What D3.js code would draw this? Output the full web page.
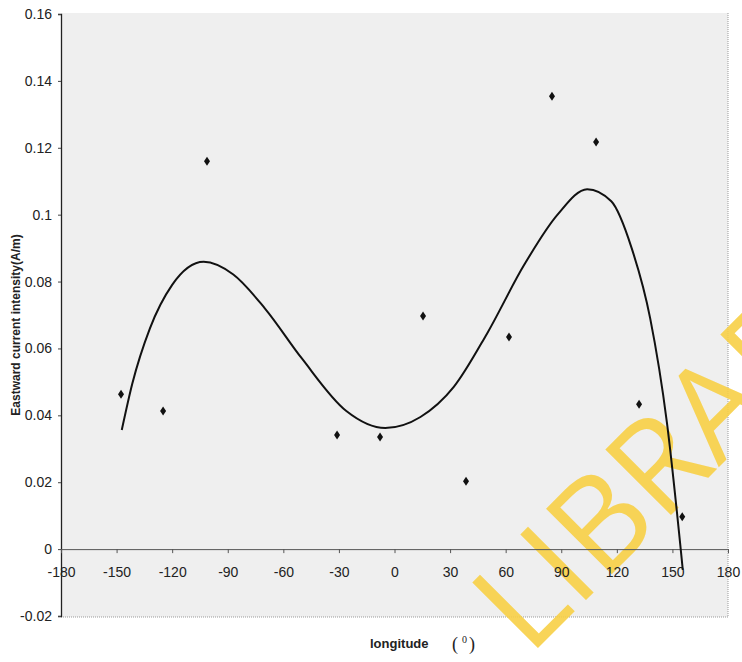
<!DOCTYPE html>
<html>
<head>
<meta charset="utf-8">
<script src="https://cdn.jsdelivr.net/npm/d3@7"></script>
<style>
  body { margin: 0; background: #fff; }
  .tick text { font-family: "Liberation Sans Narrow", "Liberation Sans", Arial, sans-serif; font-size: 14px; fill: #222; }
</style>
</head>
<body>
<script>
// measured points (longitude in degrees, eastward current intensity in A/m)
var lonPts = [-147.6, -124.9, -101.2, -31.0, -7.8, 15.4, 38.6, 61.8, 85.0, 108.8, 132.0, 155.3];
var valPts = [0.0463, 0.0413, 0.116, 0.0341, 0.0335, 0.0697, 0.0203, 0.0634, 0.1354, 0.1217, 0.0433, 0.0097];

// trend line
var trendLon = [-147.2, -141.5, -132.0, -120.0, -103.0, -87.0, -70.0, -50.0, -26.0, -5.0, 14.0, 32.0, 50.0, 70.0, 88.0, 104.0, 117.0, 128.0, 138.0, 147.0, 155.6];
var trendVal = [0.0356, 0.0495, 0.0660, 0.0790, 0.0859, 0.0821, 0.0720, 0.0570, 0.0413, 0.0362, 0.0395, 0.0485, 0.0645, 0.0850, 0.1000, 0.1076, 0.1040, 0.0900, 0.0690, 0.0380, -0.0062];

var xTicks = [-180, -150, -120, -90, -60, -30, 0, 30, 60, 90, 120, 150, 180];
var yTicks = [-0.02, 0, 0.02, 0.04, 0.06, 0.08, 0.1, 0.12, 0.14, 0.16];

var width = 742, height = 662;
var plotLeft = 61, plotRight = 728, plotTop = 14, plotBottom = 616;

var svg = d3.select('body').append('svg')
    .attr('width', width)
    .attr('height', height);

var x = d3.scaleLinear().domain([-180, 180]).range([plotLeft, plotRight]);
var y = d3.scaleLinear().domain([-0.02, 0.16]).range([plotBottom, plotTop]);

// grey plot area
svg.append('rect')
    .attr('x', plotLeft).attr('y', plotTop - 1)
    .attr('width', plotRight - plotLeft).attr('height', plotBottom - plotTop + 2)
    .attr('fill', '#efefef');

// dotted frame on right and bottom
svg.append('path')
    .attr('d', 'M' + plotLeft + ',' + (plotBottom + 1) + 'H' + plotRight + 'V' + (plotTop - 1))
    .attr('fill', 'none')
    .attr('stroke', '#999')
    .attr('stroke-width', 1)
    .attr('stroke-dasharray', '1,1');

// scanned library watermark
svg.append('text')
    .attr('transform', 'translate(529,657) rotate(-45)')
    .style('font-family', '"Open Sans", sans-serif')
    .style('font-size', '130px')
    .attr('fill', '#f8d046')
    .attr('opacity', 0.9)
    .text('LIBRARY');

// y axis
var yAxis = svg.append('g')
    .attr('transform', 'translate(' + plotLeft + ',0)')
    .call(d3.axisLeft(y).tickValues(yTicks).tickSize(3).tickPadding(6)
        .tickFormat(function(d) { return String(+d.toFixed(2)); }));
yAxis.select('.domain').attr('stroke', '#222').attr('stroke-width', 1.3);
yAxis.selectAll('.tick line').attr('stroke', '#444');

// x axis along zero
var xAxis = svg.append('g')
    .attr('transform', 'translate(0,' + y(0) + ')')
    .call(d3.axisBottom(x).tickValues(xTicks).tickSize(4).tickPadding(14)
        .tickFormat(function(d) { return String(d); }));
xAxis.select('.domain').attr('stroke', '#555').attr('stroke-width', 1);
xAxis.selectAll('.tick line').attr('stroke', '#555');

// trend line
var trend = d3.range(trendLon.length).map(function(i) { return [trendLon[i], trendVal[i]]; });
svg.append('path')
    .datum(trend)
    .attr('fill', 'none')
    .attr('stroke', '#111')
    .attr('stroke-width', 2)
    .attr('d', d3.line()
        .x(function(d) { return x(d[0]); })
        .y(function(d) { return y(d[1]); })
        .curve(d3.curveMonotoneX));

// diamonds
svg.selectAll('.pt')
    .data(d3.range(lonPts.length))
    .enter()
    .append('path')
    .attr('class', 'pt')
    .attr('d', 'M0,-4.5L3,0L0,4.5L-3,0Z')
    .attr('fill', '#111')
    .attr('transform', function(i) {
        return 'translate(' + x(lonPts[i]) + ',' + y(valPts[i]) + ')';
    });

// axis titles
svg.append('text')
    .attr('transform', 'translate(20,325) rotate(-90)')
    .attr('text-anchor', 'middle')
    .style('font-family', '"Liberation Sans", Arial, sans-serif')
    .style('font-weight', 'bold')
    .style('font-size', '12px')
    .attr('fill', '#222')
    .text('Eastward current intensity(A/m)');

svg.append('text')
    .attr('x', 370).attr('y', 648)
    .style('font-family', '"Liberation Sans Narrow", "Liberation Sans", sans-serif')
    .style('font-weight', 'bold')
    .style('font-size', '13px')
    .attr('fill', '#222')
    .text('longitude');

var unit = svg.append('text')
    .attr('x', 452).attr('y', 650)
    .style('font-family', '"Liberation Serif", serif')
    .style('font-size', '18px')
    .attr('fill', '#222');
unit.append('tspan').text('(');
unit.append('tspan').attr('dx', 4).attr('dy', -7).style('font-size', '10px').text('0');
unit.append('tspan').attr('dx', 2).attr('dy', 7).text(')');
</script>
</body>
</html>
